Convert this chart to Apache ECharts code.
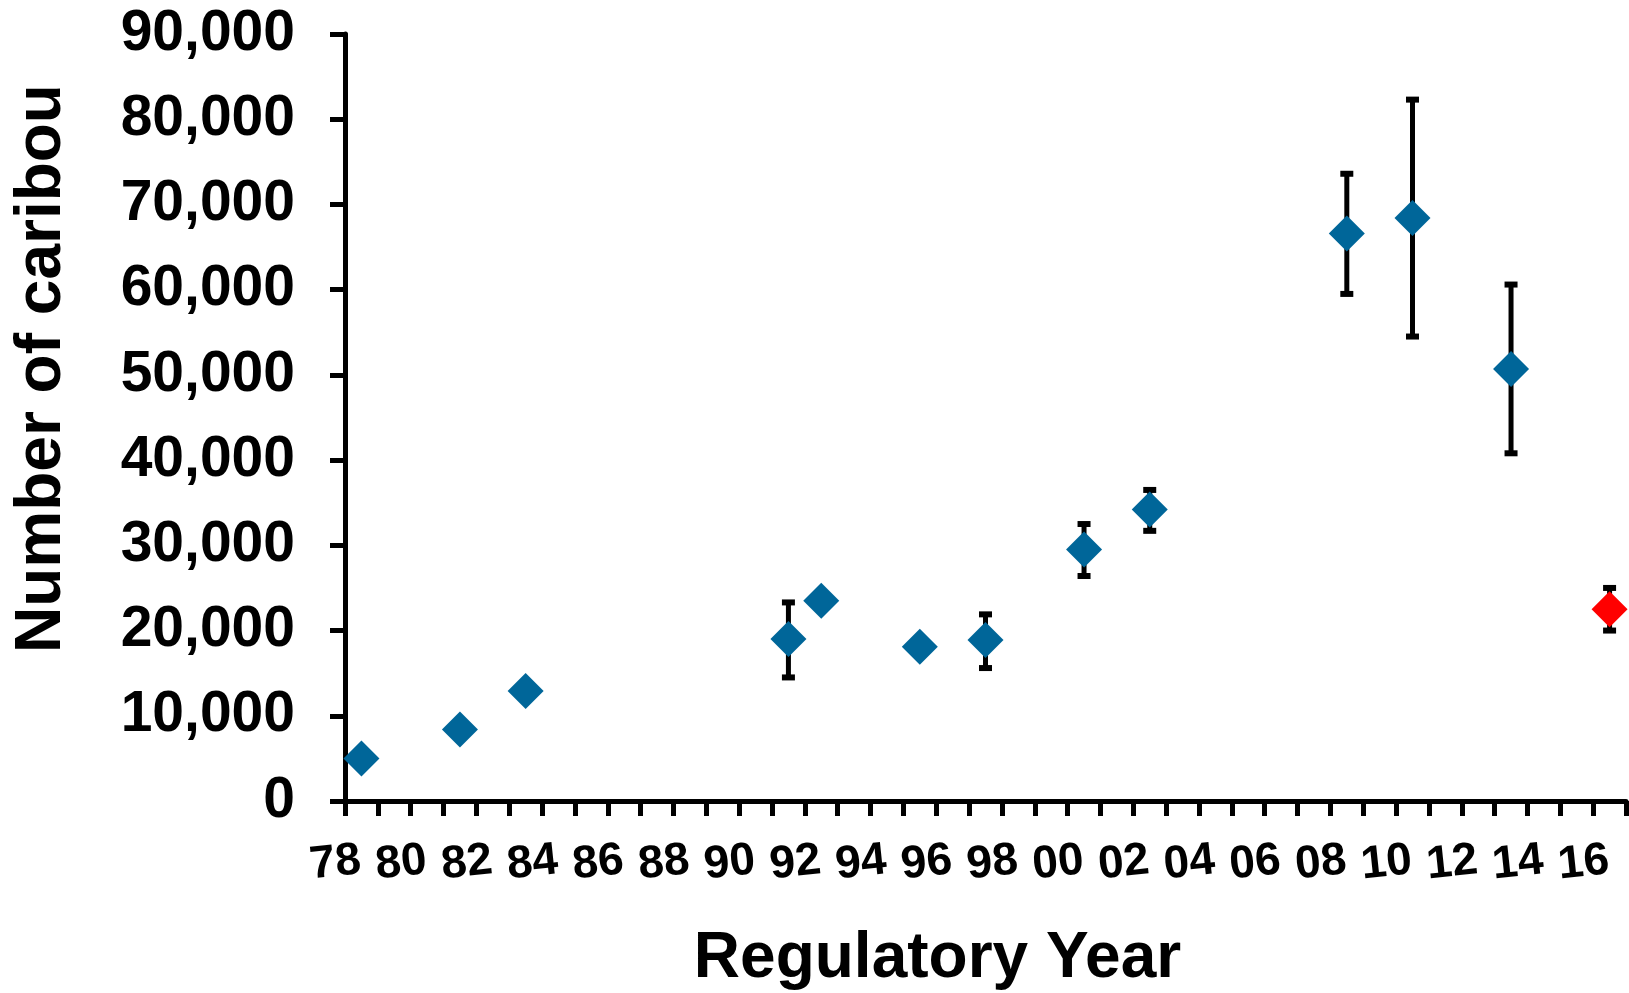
<!DOCTYPE html>
<html>
<head>
<meta charset="utf-8">
<script src="https://cdn.jsdelivr.net/npm/echarts@6/dist/echarts.min.js"></script>
<style>
  html, body { margin: 0; padding: 0; background: #ffffff; }
  #chart { width: 1629px; height: 993px; }
</style>
</head>
<body>
<div id="chart"></div>
<script>
// Survey estimates (regulatory year mid-points) with error bars
const years   = [1978.5, 1981.5, 1983.5, 1991.5, 1992.5, 1995.5, 1997.5, 2000.5, 2002.5, 2008.5, 2010.5, 2013.5];
const counts  = [5000, 8400, 12900, 19000, 23500, 18100, 18900, 29500, 34200, 66600, 68400, 50700];
const errLow  = [null, null, null, 14500, null, null, 15600, 26400, 31700, 59500, 54500, 40800];
const errHigh = [null, null, null, 23300, null, null, 21900, 32500, 36500, 73600, 82300, 60600];

// Most recent estimate (shown in red)
const latestYears   = [2016.5];
const latestCounts  = [22500];
const latestErrLow  = [20000];
const latestErrHigh = [25000];

// Tick labels
const xLabelYears = [1978, 1980, 1982, 1984, 1986, 1988, 1990, 1992, 1994, 1996, 1998,
                     2000, 2002, 2004, 2006, 2008, 2010, 2012, 2014, 2016];
const yTicks = [0, 10000, 20000, 30000, 40000, 50000, 60000, 70000, 80000, 90000];

const FONT = "'Liberation Sans', Arial, sans-serif";
const BLUE = '#006699';
const RED = '#ff0000';

function pts(xs, ys) { return xs.map((x, i) => [x, ys[i]]); }
function errs(xs, lo, hi) {
  const out = [];
  xs.forEach((x, i) => { if (lo[i] != null && hi[i] != null) out.push([x, lo[i], hi[i]]); });
  return out;
}

const errorData = errs(years, errLow, errHigh).concat(errs(latestYears, latestErrLow, latestErrHigh));

function renderErrorBar(params, api) {
  const x = api.value(0);
  const lo = api.coord([x, api.value(1)]);
  const hi = api.coord([x, api.value(2)]);
  const capHalf = 6.5;
  const style = { stroke: '#000000', lineWidth: 5 };
  const capStyle = { stroke: '#000000', lineWidth: 6 };
  return {
    type: 'group',
    children: [
      { type: 'line', shape: { x1: lo[0], y1: lo[1], x2: hi[0], y2: hi[1] }, style: style },
      { type: 'line', shape: { x1: lo[0] - capHalf, y1: lo[1], x2: lo[0] + capHalf, y2: lo[1] }, style: capStyle },
      { type: 'line', shape: { x1: hi[0] - capHalf, y1: hi[1], x2: hi[0] + capHalf, y2: hi[1] }, style: capStyle }
    ]
  };
}

const chart = echarts.init(document.getElementById('chart'), null, { renderer: 'canvas' });
const axisLineStyle = { color: '#000000', width: 5 };

chart.setOption({
  animation: false,
  backgroundColor: '#ffffff',
  grid: { left: 345, right: 3, top: 34, bottom: 192, containLabel: false, outerBoundsMode: 'none' },
  xAxis: {
    type: 'value',
    min: 1978, max: 2017, interval: 1,
    name: 'Regulatory Year',
    nameLocation: 'middle',
    nameGap: 126,
    nameTextStyle: { fontFamily: FONT, fontWeight: 'bold', fontSize: 64, color: '#000', padding: [0, 96, 0, 0] },
    axisLine: { show: true, onZero: false, lineStyle: axisLineStyle },
    axisTick: { show: true, inside: false, length: 15, lineStyle: { color: '#000', width: 5 } },
    splitLine: { show: false },
    axisLabel: {
      show: true,
      margin: 38,
      rotate: 6,
      align: 'center',
      verticalAlign: 'top',
      padding: [0, 24, 0, 0],
      fontFamily: FONT, fontWeight: 'bold', fontSize: 46, color: '#000',
      showMinLabel: true, showMaxLabel: true,
      formatter: function (v) {
        return xLabelYears.indexOf(v) >= 0 ? String(v % 100).padStart(2, '0') : '';
      }
    }
  },
  yAxis: {
    type: 'value',
    min: yTicks[0], max: yTicks[yTicks.length - 1], interval: yTicks[1] - yTicks[0],
    name: 'Number of caribou',
    nameLocation: 'middle',
    nameGap: 271,
    nameTextStyle: { fontFamily: FONT, fontWeight: 'bold', fontSize: 64, color: '#000', padding: [0, 0, 0, 98] },
    axisLine: { show: true, onZero: false, lineStyle: axisLineStyle },
    axisTick: { show: true, inside: false, length: 15, lineStyle: { color: '#000', width: 5 } },
    splitLine: { show: false },
    axisLabel: {
      margin: 50,
      fontFamily: FONT, fontWeight: 'bold', fontSize: 57, color: '#000',
      formatter: function (v) { return v.toLocaleString('en-US'); }
    }
  },
  series: [
    {
      name: 'Error bars',
      type: 'custom',
      renderItem: renderErrorBar,
      data: errorData,
      encode: { x: 0, y: [1, 2] },
      z: 1,
      silent: true
    },
    {
      name: 'Estimate',
      type: 'scatter',
      symbol: 'diamond',
      symbolSize: 36,
      itemStyle: { color: BLUE, opacity: 1 },
      data: pts(years, counts),
      z: 3
    },
    {
      name: 'Latest estimate',
      type: 'scatter',
      symbol: 'diamond',
      symbolSize: 36,
      itemStyle: { color: RED, opacity: 1 },
      data: pts(latestYears, latestCounts),
      z: 3
    }
  ]
});
</script>
</body>
</html>
